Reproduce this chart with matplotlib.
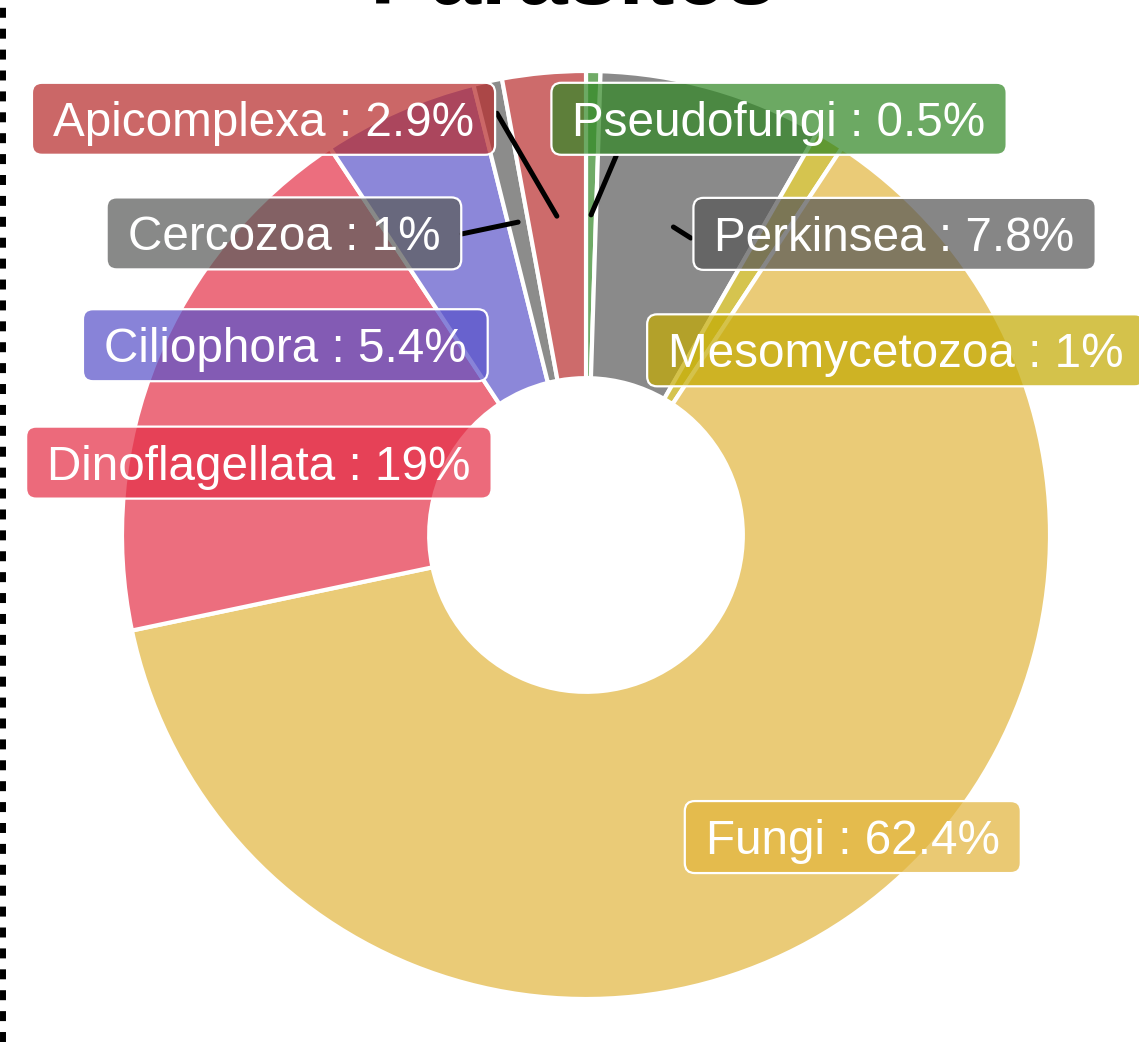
import matplotlib
matplotlib.use("Agg")
import numpy as np
import matplotlib.pyplot as plt
from matplotlib.patches import FancyBboxPatch
from matplotlib.lines import Line2D
from matplotlib.colors import to_rgba

plt.rcParams['font.family'] = ['Liberation Sans', 'DejaVu Sans']

# data (clockwise from 12 o'clock)
groups = ["Pseudofungi", "Perkinsea", "Mesomycetozoa", "Fungi",
          "Dinoflagellata", "Ciliophora", "Cercozoa", "Apicomplexa"]
share = [0.5, 7.8, 1, 62.4, 19, 5.4, 1, 2.9]
colors = ["#338827", "#585858", "#C4AB05", "#E2B53D",
          "#E53048", "#5B54CA", "#5B5C5A", "#B82D2D"]
ALPHA = 0.7

# layout: label centres (in units of outer radius) and leader end points
label_pos = [(0.416, 0.897), (0.665, 0.649), (0.668, 0.398), (0.575, -0.651),
             (-0.705, 0.156), (-0.648, 0.409), (-0.651, 0.650), (-0.695, 0.897)]
leader_end = [(0.065, 0.817), (0.226, 0.640), None, None,
              None, None, (-0.267, 0.649), (-0.192, 0.909)]

PX = 1 / 464.0  # one pixel in data units
W, H = 1139, 1042
CX, CY = 586, 535

fig = plt.figure(figsize=(W / 100, H / 100), dpi=100)
ax = fig.add_axes([0, 0, 1, 1])

wedges, _ = ax.pie(share, colors=colors, startangle=90, counterclock=False,
                   radius=1, wedgeprops=dict(width=0.662, edgecolor="white", linewidth=3))
for w, c in zip(wedges, colors):
    w.set_facecolor(to_rgba(c, ALPHA))

ax.set_xlim(-CX * PX, (W - CX) * PX)
ax.set_ylim(-(H - CY) * PX, CY * PX)
ax.set_aspect("equal")
ax.axis("off")

# leader lines
cum = np.cumsum([0] + share)
mid = (cum[:-1] + cum[1:]) / 2 / 100 * 2 * np.pi
for m, end in zip(mid, leader_end):
    if end is None:
        continue
    ax.plot([0.69 * np.sin(m), end[0]], [0.69 * np.cos(m), end[1]],
            color="black", lw=3.6, solid_capstyle="round", zorder=3)

# labels
fs = 34.3
cap = 0.716 * fs * 100 / 72 * PX
texts = []
for g, s, (x, y) in zip(groups, share, label_pos):
    t = ax.text(x, y - cap / 2, f"{g} : {s:g}%", ha="center", va="baseline",
                fontsize=fs, color="white", zorder=6)
    texts.append(t)

fig.canvas.draw()
r = fig.canvas.get_renderer()
for t, c, (x, y) in zip(texts, colors, label_pos):
    bw = t.get_window_extent(r).width * PX + 42 * PX
    bh = 72 * PX
    box = FancyBboxPatch((x - bw / 2, y - bh / 2), bw, bh,
                         boxstyle=f"round,pad=0,rounding_size={10 * PX}",
                         fc=to_rgba(c, 0.72), ec="white", lw=1.6, zorder=5)
    ax.add_patch(box)

fig.text(574 / W, 1 - 4 / H, "Parasites", ha="center", va="baseline",
         fontsize=66, fontweight="bold")

fig.add_artist(Line2D([3 / W, 3 / W], [0, 1], transform=fig.transFigure,
                      color="black", lw=4.3, linestyle=(0, (1.67, 1.83)),
                      dash_capstyle="butt"))

fig.savefig("out.png", dpi=100)
